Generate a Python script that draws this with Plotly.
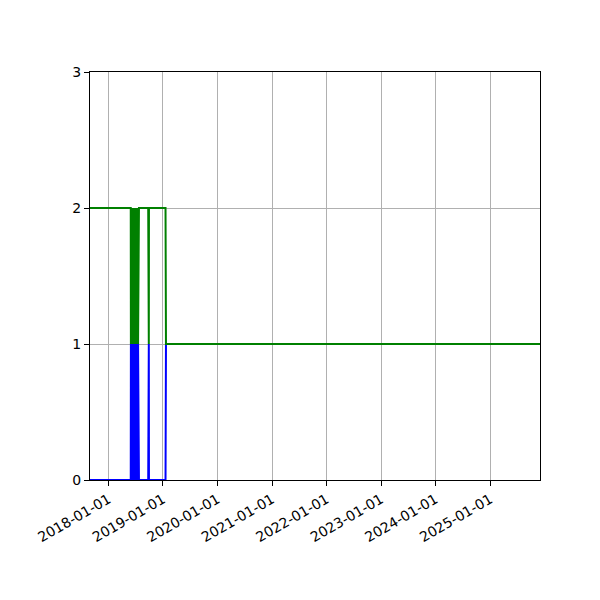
import plotly.graph_objects as go

dates = [
    "2017-08-30", "2018-05-30",
    "2018-05-31", "2018-06-02", "2018-06-04", "2018-06-06", "2018-06-08", "2018-06-10",
    "2018-06-12", "2018-06-14", "2018-06-16", "2018-06-18", "2018-06-20", "2018-06-22",
    "2018-06-24", "2018-06-26", "2018-06-28", "2018-06-30", "2018-07-02", "2018-07-04",
    "2018-07-06", "2018-07-08", "2018-07-10", "2018-07-12", "2018-07-14", "2018-07-16",
    "2018-07-18", "2018-07-20", "2018-07-22", "2018-07-24",
    "2018-09-24", "2018-09-25", "2018-09-28", "2018-09-29",
    "2019-01-18", "2019-01-21", "2025-12-01",
]
green_vals = [
    2, 2,
    1, 2, 1, 2, 1, 2,
    1, 2, 1, 2, 1, 2,
    1, 2, 1, 2, 1, 2,
    1, 2, 1, 2, 1, 2,
    1, 2, 1, 2,
    2, 1, 1, 2,
    2, 1, 1,
]
blue_vals = [
    0, 0,
    1, 0, 1, 0, 1, 0,
    1, 0, 1, 0, 1, 0,
    1, 0, 1, 0, 1, 0,
    1, 0, 1, 0, 1, 0,
    1, 0, 1, 0,
    0, 1, 1, 0,
    0, 1, 1,
]
x_ticks = ["2018-01-01", "2019-01-01", "2020-01-01", "2021-01-01",
           "2022-01-01", "2023-01-01", "2024-01-01", "2025-01-01"]
y_ticks = [0, 1, 2, 3]

fig = go.Figure()
fig.add_trace(go.Scatter(x=dates, y=blue_vals, mode="lines",
                         line=dict(color="blue", width=2), showlegend=False))
fig.add_trace(go.Scatter(x=dates, y=green_vals, mode="lines",
                         line=dict(color="green", width=2), showlegend=False))

axis_common = dict(showline=True, mirror=True, linecolor="black", linewidth=1,
                   ticks="outside", ticklen=5, tickcolor="black",
                   showgrid=True, gridcolor="#b0b0b0", gridwidth=1,
                   zeroline=False, tickfont=dict(family="DejaVu Sans", size=14, color="black"))

fig.update_layout(
    width=600, height=600,
    margin=dict(l=82, r=68, t=64, b=128),
    plot_bgcolor="white", paper_bgcolor="white",
    xaxis=dict(range=["2017-08-30", "2025-12-01"], tickvals=x_ticks, ticktext=x_ticks,
               tickangle=-30, **axis_common),
    yaxis=dict(range=[0, 3], tickvals=y_ticks, ticktext=[str(v) for v in y_ticks], **axis_common),
)

fig.write_html("out.html")
